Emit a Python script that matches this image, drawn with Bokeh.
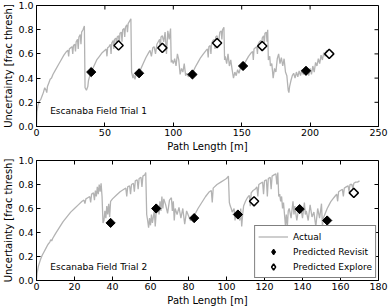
import numpy as np
from bokeh.plotting import figure
from bokeh.layouts import column
from bokeh.models import (Range1d, FixedTicker, PrintfTickFormatter,
                          Label, Legend, LegendItem)
from bokeh.embed import file_html
from bokeh.resources import INLINE

# ---------------- data ----------------
t1_x = [0, 0.3, 1, 2, 3, 4, 5, 6, 7, 7.5, 8, 9, 10, 11, 12, 14, 16, 18, 20, 22, 23, 23.5, 24, 25, 26,
        26.5, 27, 28, 28.5, 29, 30, 30.5, 31, 32, 32.5, 33, 34, 35, 35.5, 36.5, 37.5, 38, 39, 40, 42, 44,
        46, 48, 50, 51, 51.5, 52, 53, 54, 54.5, 55, 56, 56.5, 57, 58, 58.5, 59, 60, 60.5, 61, 62, 62.5,
        63, 64, 64.5, 65, 66, 66.5, 67, 68, 69, 69.5, 70.5, 71, 72, 73, 74, 75, 76, 78, 80, 82, 83, 84,
        85, 86, 87, 88, 89, 90, 90.5, 91, 92, 93, 94, 95, 96, 97, 98, 98.5, 99, 100, 101, 102, 103, 104,
        105, 106, 107, 108, 109, 110, 111, 112, 113, 114, 116, 118, 120, 122, 124, 125, 125.5, 126, 127,
        127.5, 128, 129, 130, 130.5, 131, 132, 133, 134, 135, 135.5, 136, 137, 137.5, 138, 139, 140, 141,
        142, 143, 144, 145, 146, 147, 148, 149, 150, 151, 153, 155, 157, 158, 158.5, 159, 160, 161, 161.5,
        162, 163, 164, 164.5, 165, 166, 166.5, 167, 168, 168.5, 169, 169.5, 170.5, 171, 172, 173, 174,
        175, 176, 177, 178, 179, 180, 181, 182, 183, 184, 184.5, 185, 186, 187, 188, 189, 190, 191, 192,
        193, 194, 195, 196, 197, 198, 199, 200, 201, 202, 203, 204, 205, 206, 207, 208, 209, 210, 211,
        212, 213]
t1_y = [0.0, 0.12, 0.17, 0.21, 0.22, 0.25, 0.28, 0.32, 0.30, 0.28, 0.33, 0.36, 0.39, 0.40, 0.43, 0.47,
        0.51, 0.55, 0.59, 0.62, 0.63, 0.58, 0.64, 0.65, 0.66, 0.60, 0.67, 0.68, 0.62, 0.70, 0.72, 0.64,
        0.74, 0.76, 0.68, 0.78, 0.80, 0.83, 0.32, 0.30, 0.33, 0.38, 0.42, 0.45, 0.50, 0.55, 0.58, 0.61,
        0.63, 0.64, 0.58, 0.65, 0.66, 0.68, 0.60, 0.69, 0.71, 0.64, 0.72, 0.73, 0.66, 0.74, 0.75, 0.68,
        0.77, 0.78, 0.70, 0.80, 0.81, 0.74, 0.82, 0.84, 0.78, 0.85, 0.87, 0.89, 0.45, 0.40, 0.43, 0.39,
        0.44, 0.42, 0.44, 0.47, 0.52, 0.57, 0.61, 0.63, 0.58, 0.65, 0.66, 0.60, 0.68, 0.70, 0.72, 0.62,
        0.74, 0.75, 0.70, 0.78, 0.60, 0.79, 0.72, 0.81, 0.53, 0.55, 0.52, 0.56, 0.50, 0.60, 0.55, 0.43,
        0.48, 0.45, 0.52, 0.42, 0.44, 0.41, 0.43, 0.42, 0.44, 0.49, 0.53, 0.57, 0.60, 0.63, 0.64, 0.57,
        0.66, 0.67, 0.60, 0.69, 0.71, 0.72, 0.64, 0.74, 0.75, 0.68, 0.78, 0.79, 0.72, 0.80, 0.82, 0.55,
        0.58, 0.52, 0.60, 0.50, 0.55, 0.47, 0.40, 0.45, 0.42, 0.47, 0.44, 0.48, 0.49, 0.50, 0.54, 0.58,
        0.61, 0.62, 0.55, 0.64, 0.65, 0.66, 0.60, 0.68, 0.70, 0.71, 0.63, 0.73, 0.75, 0.68, 0.77, 0.78,
        0.70, 0.80, 0.55, 0.58, 0.50, 0.52, 0.40, 0.48, 0.45, 0.56, 0.60, 0.52, 0.57, 0.50, 0.56, 0.45,
        0.42, 0.30, 0.28, 0.33, 0.38, 0.42, 0.44, 0.40, 0.45, 0.41, 0.46, 0.42, 0.47, 0.43, 0.46, 0.44,
        0.47, 0.42, 0.48, 0.43, 0.50, 0.45, 0.53, 0.50, 0.56, 0.52, 0.59, 0.55, 0.61, 0.58, 0.63, 0.60]

t1_rev_x = [40, 75, 114, 151, 197]
t1_rev_y = [0.45, 0.44, 0.43, 0.50, 0.46]
t1_exp_x = [60, 92, 132, 165, 214]
t1_exp_y = [0.67, 0.65, 0.69, 0.665, 0.60]

t2_x = [0, 0.3, 1, 2, 3, 4, 5, 6, 7, 7.5, 8, 8.5, 10, 12, 14, 16, 18, 20, 22, 24, 25, 25.5, 26, 27, 28,
        28.5, 29, 30, 30.5, 31, 31.5, 32, 32.5, 33, 33.5, 34, 34.5, 35, 35.5, 36, 36.5, 37, 37.5, 38,
        38.5, 39, 40, 42, 44, 46, 47, 47.5, 48, 49, 49.5, 50, 51, 51.5, 52, 53, 53.5, 54, 55, 55.5, 56,
        57, 57.5, 58, 58.5, 59, 59.5, 60, 60.5, 61, 62, 62.5, 63, 64, 64.5, 65, 65.5, 66, 66.5, 67, 68,
        69, 70, 71, 71.5, 72, 72.5, 73, 74, 75, 76, 77, 78, 79, 80, 81, 82, 83, 85, 87, 89, 91, 92, 92.5,
        93, 95, 97, 99, 100, 100.5, 101, 101.5, 102, 102.5, 103, 104, 104.5, 105, 106, 107, 107.5, 108,
        108.5, 109, 110, 111, 112, 112.5, 113, 114, 115, 116, 116.5, 117, 118, 119, 119.5, 120, 121,
        121.5, 122, 123, 123.5, 124, 125, 126, 126.5, 127, 127.5, 128, 128.5, 129, 129.5, 130, 131,
        131.5, 132, 132.5, 133, 134, 135, 135.5, 136, 137, 138, 139, 140, 141, 141.5, 142, 143, 144, 145,
        146, 147, 148, 149, 150, 150.5, 151, 152, 153, 154, 155, 156, 157, 158, 158.5, 159, 160, 161,
        161.5, 162, 163, 164, 164.5, 165, 166, 166.5, 167, 168, 169, 170]
t2_y = [0.0, 0.06, 0.12, 0.17, 0.21, 0.24, 0.27, 0.30, 0.32, 0.34, 0.33, 0.35, 0.39, 0.44, 0.49, 0.53,
        0.57, 0.60, 0.63, 0.66, 0.67, 0.64, 0.68, 0.69, 0.70, 0.65, 0.72, 0.73, 0.67, 0.75, 0.70, 0.78,
        0.72, 0.80, 0.74, 0.81, 0.70, 0.48, 0.50, 0.58, 0.52, 0.62, 0.55, 0.64, 0.53, 0.66, 0.68, 0.71,
        0.74, 0.76, 0.77, 0.70, 0.78, 0.79, 0.72, 0.80, 0.81, 0.74, 0.83, 0.84, 0.76, 0.85, 0.86, 0.78,
        0.87, 0.88, 0.90, 0.55, 0.50, 0.44, 0.52, 0.46, 0.55, 0.48, 0.58, 0.45, 0.57, 0.62, 0.55, 0.66,
        0.58, 0.70, 0.60, 0.68, 0.63, 0.56, 0.67, 0.69, 0.58, 0.66, 0.50, 0.60, 0.55, 0.61, 0.52, 0.60,
        0.47, 0.58, 0.54, 0.50, 0.52, 0.54, 0.60, 0.65, 0.70, 0.74, 0.75, 0.65, 0.77, 0.80, 0.82, 0.84,
        0.85, 0.86, 0.87, 0.65, 0.62, 0.60, 0.57, 0.60, 0.50, 0.56, 0.55, 0.50, 0.60, 0.45, 0.55, 0.62,
        0.66, 0.69, 0.71, 0.62, 0.73, 0.75, 0.76, 0.78, 0.70, 0.80, 0.81, 0.82, 0.72, 0.83, 0.84, 0.70,
        0.85, 0.86, 0.76, 0.87, 0.88, 0.89, 0.80, 0.90, 0.70, 0.72, 0.66, 0.70, 0.60, 0.65, 0.46, 0.55,
        0.44, 0.58, 0.60, 0.52, 0.66, 0.55, 0.62, 0.50, 0.60, 0.62, 0.52, 0.65, 0.55, 0.58, 0.50, 0.63,
        0.53, 0.57, 0.45, 0.60, 0.52, 0.64, 0.45, 0.52, 0.56, 0.60, 0.63, 0.66, 0.68, 0.70, 0.72, 0.66,
        0.74, 0.75, 0.76, 0.70, 0.77, 0.78, 0.79, 0.74, 0.80, 0.80, 0.76, 0.81, 0.82, 0.82, 0.83]

t2_rev_x = [39, 63, 83, 106, 138.5, 153]
t2_rev_y = [0.48, 0.60, 0.52, 0.55, 0.595, 0.50]
t2_exp_x = [114.5, 167]
t2_exp_y = [0.66, 0.73]

x1_ticks = [0, 50, 100, 150, 200, 250]
x2_ticks = [0, 20, 40, 60, 80, 100, 120, 140, 160, 180]
y_ticks = [0.0, 0.2, 0.4, 0.6, 0.8, 1.0]
x_label = "Path Length [m]"
y_label = "Uncertainty [frac thresh]"
titles = ["Escanaba Field Trial 1", "Escanaba Field Trial 2"]
legend_labels = ["Actual", "Predicted Revisit", "Predicted Explore"]

FONT = "DejaVu Sans"
LINE_COLOR = "#b3b3b3"


def style_axis(ax, ticks, fmt=None):
    ax.ticker = FixedTicker(ticks=ticks)
    ax.major_tick_in = 4
    ax.major_tick_out = 0
    ax.minor_tick_line_color = None
    ax.axis_line_color = "black"
    ax.major_tick_line_color = "black"
    if fmt:
        ax.formatter = PrintfTickFormatter(format=fmt)
    ax.major_label_text_font = FONT
    ax.major_label_text_font_size = "9.5px"
    ax.major_label_text_color = "black"
    ax.axis_label_text_font = FONT
    ax.axis_label_text_font_size = "10px"
    ax.axis_label_text_font_style = "normal"
    ax.axis_label_text_color = "black"


def make_fig(xmax, xticks, bt, bb, xs, ys, rx, ry, ex, ey, title, tx, ty):
    p = figure(width=388, height=154, x_range=Range1d(0, xmax), y_range=Range1d(0, 1),
               output_backend="svg", toolbar_location=None,
               min_border_left=35, min_border_right=10, min_border_top=bt, min_border_bottom=bb)
    p.grid.visible = False
    p.outline_line_color = "black"
    p.background_fill_color = "white"
    p.border_fill_color = "white"

    style_axis(p.xaxis[0], xticks)
    p.xaxis[0].axis_label = x_label
    p.xaxis[0].major_label_standoff = 2
    p.xaxis[0].axis_label_standoff = 2
    style_axis(p.yaxis[0], y_ticks, "%.1f")
    p.yaxis[0].axis_label = y_label
    p.yaxis[0].major_label_standoff = 3
    p.yaxis[0].axis_label_standoff = 1

    # inward ticks on the right and top edges of the frame
    p.ray(x=xmax, y=y_ticks, length=4, length_units="screen", angle=np.pi,
          line_color="black", line_width=1)
    p.ray(x=xticks, y=1.0, length=4, length_units="screen", angle=-np.pi / 2,
          line_color="black", line_width=1)

    ln = p.line(xs, ys, line_color=LINE_COLOR, line_width=1.3)
    # narrow diamonds underneath (used for the legend), covered by the rotated squares
    rv_leg = p.scatter(rx, ry, marker="diamond", size=8,
                       fill_color="black", line_color="black", line_width=1)
    ep_leg = p.scatter(ex, ey, marker="diamond", size=8,
                       fill_color="white", line_color="black", line_width=1.5)
    p.scatter(rx, ry, marker="square", angle=np.pi / 4, size=6.5,
              fill_color="black", line_color="black", line_width=1)
    p.scatter(ex, ey, marker="square", angle=np.pi / 4, size=6.5,
              fill_color="white", line_color="black", line_width=1.5)

    p.add_layout(Label(x=tx, y=ty, text=title, text_font=FONT, text_font_size="9px",
                       text_color="black", text_baseline="middle"))
    return p, ln, rv_leg, ep_leg


p1, _, _, _ = make_fig(250, x1_ticks, 5, 28, t1_x, t1_y, t1_rev_x, t1_rev_y,
                       t1_exp_x, t1_exp_y, titles[0], 10, 0.13)
p2, l2, r2, e2 = make_fig(180, x2_ticks, 6, 27, t2_x, t2_y, t2_rev_x, t2_rev_y,
                          t2_exp_x, t2_exp_y, titles[1], 7.3, 0.11)

legend = Legend(items=[LegendItem(label=legend_labels[0], renderers=[l2]),
                       LegendItem(label=legend_labels[1], renderers=[r2]),
                       LegendItem(label=legend_labels[2], renderers=[e2])],
                location="bottom_right", margin=2, padding=3, spacing=0,
                label_height=13, glyph_height=15, glyph_width=30, label_standoff=5,
                label_text_font=FONT, label_text_font_size="9px", label_text_color="black",
                border_line_color="black", border_line_width=1,
                background_fill_color="white", background_fill_alpha=1)
p2.add_layout(legend)

layout = column(p1, p2, spacing=0,
                styles={"position": "absolute", "left": "0px", "top": "0px"})

open("out.html", "w").write(file_html(layout, INLINE))
